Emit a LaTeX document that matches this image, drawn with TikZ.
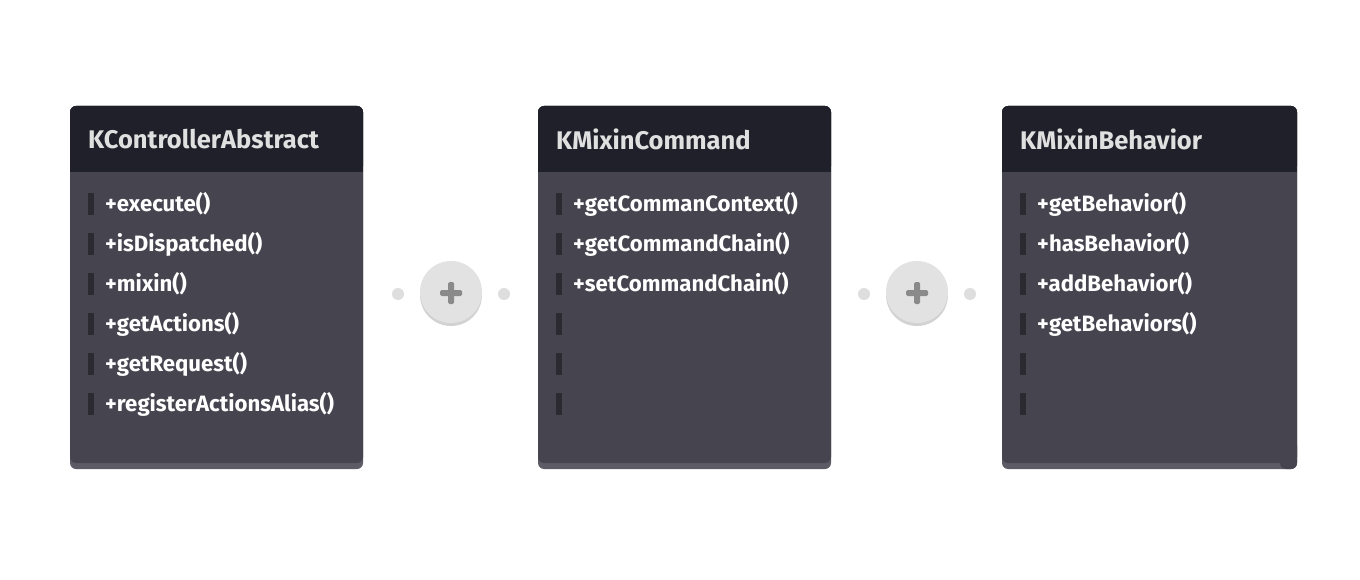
\documentclass[tikz,border=0pt]{standalone}
\usepackage{fontspec}
\setmainfont{Fira Sans}
\definecolor{cHdr}{HTML}{1F2029}
\definecolor{cBdy}{HTML}{46444F}
\definecolor{cStrip}{HTML}{5D5B66}
\definecolor{cBar}{HTML}{2B2A31}
\definecolor{cHdrTxt}{HTML}{E0E0E0}
\definecolor{cCirc}{HTML}{E2E2E2}
\definecolor{cCircSh}{HTML}{D2D2D2}
\definecolor{cPlus}{HTML}{8A8A8A}
\definecolor{cDot}{HTML}{DEDEDE}
\tikzset{
  title/.style={anchor=west,text=cHdrTxt,font=\fontsize{25.5}{29}\selectfont\bfseries,inner sep=0pt},
  member/.style={anchor=west,text=white,font=\fontsize{22.2}{26}\selectfont\bfseries,inner sep=0pt},
  plusbtn/.style={circle,fill=cCirc,minimum size=62pt,inner sep=0pt},
  sidedot/.style={circle,fill=cDot,minimum size=12pt,inner sep=0pt},
}
\newcommand{\umlbox}[5]{% name, x left, width, title, list of members
  \fill[cStrip,rounded corners=6pt] (#2,106) rectangle ++(#3,363);
  \fill[cBdy,rounded corners=6pt] (#2,106) rectangle ++(#3,357);
  \fill[cHdr,rounded corners=6pt] (#2,106) rectangle ++(#3,66);
  \fill[cHdr] (#2,150) rectangle ++(#3,22);
  \node[title] (#1-title) at (#2+18,139) {#4};
  \foreach \m [count=\i] in {#5} {
    \fill[cBar] (#2+18,193+40*\i-40) rectangle ++(6,22);
    \node[member] (#1-m\i) at (#2+35,204+40*\i-40) {\m};
  }
}
\begin{document}
\begin{tikzpicture}[x=1pt,y=-1pt]
\useasboundingbox (0,0) rectangle (1360,580);
\fill[white] (0,0) rectangle (1360,580);
\umlbox{a}{70}{293}{KControllerAbstract}{+execute(),+isDispatched(),+mixin(),+getActions(),+getRequest(),+registerActionsAlias()}
\umlbox{b}{538}{293}{KMixinCommand}{+getCommanContext(),+getCommandChain(),+setCommandChain(),{},{},{}}
\umlbox{c}{1002}{295}{KMixinBehavior}{+getBehavior(),+hasBehavior(),+addBehavior(),+getBehaviors(),{},{}}
% darker bottom-right corner of the third box
\fill[cBdy,rounded corners=6pt] (1280,440) rectangle (1297,469);
\fill[cBdy] (1278,440) rectangle (1283,463);
\foreach \n/\cx in {p1/451,p2/917} {
  \fill[cCircSh] (\cx,295) circle (31pt);
  \node[plusbtn] (\n) at (\cx,292) {};
  \fill[cPlus,rounded corners=1.5pt] (\cx-11,290) rectangle (\cx+11,296);
  \fill[cPlus,rounded corners=1.5pt] (\cx-3,282) rectangle (\cx+3,304);
  \node[sidedot] (\n-l) at (\cx-53,294) {};
  \node[sidedot] (\n-r) at (\cx+53,294) {};
}
\end{tikzpicture}
\end{document}
